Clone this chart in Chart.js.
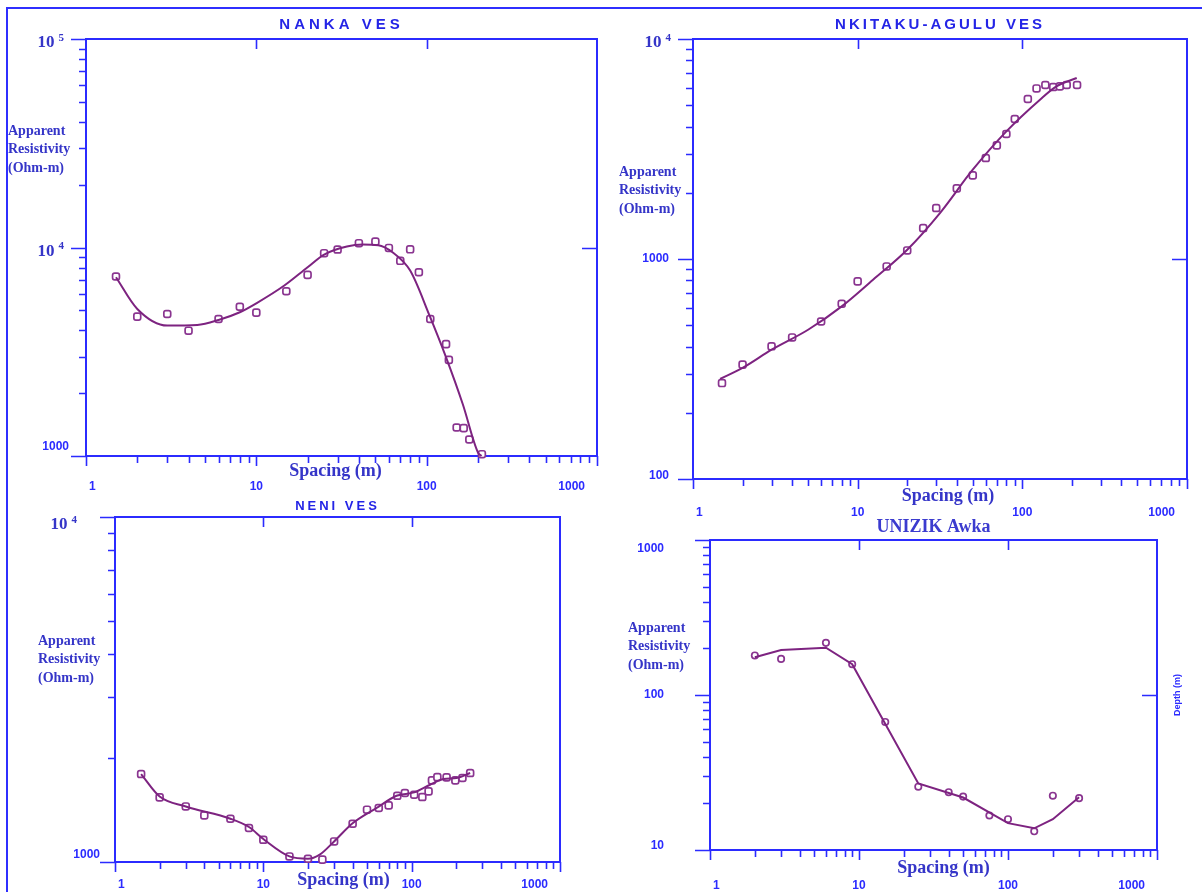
<!DOCTYPE html>
<html>
<head>
<meta charset="utf-8">
<script src="https://cdn.jsdelivr.net/npm/chart.js@4.4.1/dist/chart.umd.min.js"></script>
<style>
  html, body { margin: 0; padding: 0; background: #fff; }
  #page { position: relative; width: 1202px; height: 892px; overflow: hidden; }
  #page canvas { position: absolute; left: 0; top: 0; }
  #frame { position: absolute; left: 6px; top: 7px; width: 1200px; height: 900px;
           border-top: 2px solid #2f2fff; border-left: 2px solid #2f2fff; }
</style>
</head>
<body>
<div id="page">
  <div id="frame"></div>
  <canvas id="nanka" width="1202" height="892"></canvas>
  <canvas id="nkitaku" width="1202" height="892"></canvas>
  <canvas id="neni" width="1202" height="892"></canvas>
  <canvas id="unizik" width="1202" height="892"></canvas>
</div>
<script>
// ---- data ----
const spacingTicks = [1, 10, 100, 1000];

// Nanka VES
const nankaSpacing = [1.5, 2, 3, 4, 6, 8, 10, 15, 20, 25, 30, 40, 50, 60, 70, 80, 90, 105, 130, 135, 150, 165, 178, 211];
const nankaRho = [7260, 4660, 4800, 3990, 4540, 5200, 4870, 6170, 7390, 9390, 9780, 10490, 10680, 9950, 8630, 9800, 7610, 4540, 3440, 2890, 1370, 1360, 1200, 1020];
const nankaFitSpacing = [1.5, 2, 3, 4.5, 6, 8, 10, 14.6, 20, 25, 34, 42, 52, 63, 80, 104, 130, 163, 200, 210];
const nankaFitRho = [7200, 5070, 4220, 4250, 4490, 4890, 5400, 6570, 8040, 9250, 10110, 10330, 10260, 9490, 7750, 4710, 2970, 1770, 1040, 1000];
const nankaRhoTicks = [1000, 10000, 100000];

// Nkitaku-Agulu VES
const nkitakuSpacing = [1.5, 2, 3, 4, 6, 8, 10, 15, 20, 25, 30, 40, 50, 60, 70, 80, 90, 108, 122, 138, 154, 169, 186, 215];
const nkitakuRho = [273, 331, 401, 440, 520, 626, 791, 925, 1094, 1383, 1705, 2094, 2399, 2877, 3284, 3700, 4329, 5337, 5960, 6180, 6050, 6090, 6180, 6180];
const nkitakuFitSpacing = [1.46, 2, 3, 5, 8, 12.4, 20, 31.6, 50, 80, 128, 161, 214];
const nkitakuFitRho = [285, 320, 387, 477, 609, 805, 1102, 1618, 2546, 3802, 5297, 6088, 6650];
const nkitakuRhoTicks = [100, 1000, 10000];

// Neni VES
const neniSpacing = [1.5, 2, 3, 4, 6, 8, 10, 15, 20, 25, 30, 40, 50, 60, 70, 80, 90, 104, 118, 130, 137, 149, 172, 197, 220, 248];
const neniRho = [1799, 1539, 1449, 1365, 1335, 1255, 1160, 1038, 1022, 1016, 1147, 1291, 1418, 1434, 1459, 1556, 1585, 1567, 1543, 1602, 1724, 1763, 1759, 1724, 1752, 1811];
const neniFitSpacing = [1.5, 2, 3, 6, 8, 10, 15, 20, 24, 30, 40, 58, 79, 104, 133, 164, 201, 248];
const neniFitRho = [1799, 1549, 1449, 1335, 1263, 1166, 1038, 1022, 1050, 1147, 1295, 1434, 1556, 1591, 1675, 1740, 1752, 1811];
const neniRhoTicks = [1000, 10000];

// UNIZIK Awka
const unizikSpacing = [2, 3, 6, 9, 15, 25, 40, 50, 75, 100, 150, 200, 300];
const unizikRho = [180, 171, 217, 158, 67, 25.6, 23.6, 22.1, 16.7, 15.8, 13.2, 22.4, 21.6];
const unizikFitSpacing = [2, 3, 6, 9, 25, 50, 100, 150, 200, 300];
const unizikFitRho = [175, 195, 202, 158, 26.9, 21.8, 14.9, 13.8, 15.8, 21.9];
const unizikRhoTicks = [10, 100, 1000];

// ---- styling ----
const AXIS = '#2b2bff';
const LABEL = '#3535c8';
const CURVE = '#7d2380';
const MARK = '#8a3590';
const SERIF = '"Liberation Serif", "Times New Roman", serif';
const SANS = '"Liberation Sans", Arial, sans-serif';

function toPoints(xs, ys) {
    return xs.map((x, i) => ({ x: x, y: ys[i] }));
}

function logTicks(min, max) {
    const out = [];
    for (let e = Math.floor(Math.log10(min)); e <= Math.log10(max); e++) {
        for (let m = 1; m <= 9; m++) {
            const v = m * Math.pow(10, e);
            if (v >= min * 0.999 && v <= max * 1.001) out.push({ v: v, major: m === 1 });
        }
    }
    return out;
}

// draws the frame, ticks and all the texts of one VES panel
const vesFrame = {
    id: 'vesFrame',
    beforeDatasetsDraw(chart, args, o) {
        const ctx = chart.ctx;
        const a = chart.chartArea;
        const xs = chart.scales.x, ys = chart.scales.y;
        ctx.save();
        ctx.strokeStyle = AXIS;
        ctx.lineWidth = 2;
        ctx.strokeRect(a.left, a.top, a.right - a.left, a.bottom - a.top);

        ctx.lineWidth = 1.6;
        ctx.beginPath();
        // bottom ticks, pointing down
        logTicks(xs.min, xs.max).forEach(t => {
            const px = Math.round(xs.getPixelForValue(t.v)) + 0.5;
            ctx.moveTo(px, a.bottom);
            ctx.lineTo(px, a.bottom + (t.major ? 10 : 7));
        });
        // top ticks at inner decades, pointing in
        spacingTicks.slice(1, -1).forEach(v => {
            const px = Math.round(xs.getPixelForValue(v)) + 0.5;
            ctx.moveTo(px, a.top);
            ctx.lineTo(px, a.top + 10);
        });
        // left ticks, pointing out
        logTicks(ys.min, ys.max).forEach(t => {
            const py = Math.round(ys.getPixelForValue(t.v)) + 0.5;
            ctx.moveTo(a.left, py);
            ctx.lineTo(a.left - (t.major ? 15 : 7), py);
        });
        // right tick
        if (o.rightTick) {
            const py = Math.round(ys.getPixelForValue(o.rightTick)) + 0.5;
            ctx.moveTo(a.right, py);
            ctx.lineTo(a.right - 15, py);
        }
        ctx.stroke();

        // title
        ctx.fillStyle = o.titleColor || '#2424e6';
        ctx.font = o.titleFont;
        ctx.textAlign = 'center';
        ctx.textBaseline = 'middle';
        ctx.letterSpacing = o.titleSpacing || '0px';
        ctx.fillText(o.title, (a.left + a.right) / 2, a.top - o.titleGap);
        ctx.letterSpacing = '0px';

        // y axis title
        ctx.fillStyle = LABEL;
        ctx.font = 'bold 14px ' + SERIF;
        ctx.textAlign = 'left';
        ['Apparent', 'Resistivity', '(Ohm-m)'].forEach((s, i) => {
            ctx.fillText(s, o.yTitle[0], o.yTitle[1] + i * 18.5);
        });

        // x axis title
        ctx.font = 'bold 18px ' + SERIF;
        ctx.textAlign = 'center';
        ctx.fillText('Spacing (m)', (a.left + a.right) / 2 + o.xTitle[0], a.bottom + o.xTitle[1]);

        // x tick labels
        ctx.fillStyle = AXIS;
        ctx.font = 'bold 12px ' + SANS;
        spacingTicks.forEach((v, i) => {
            const px = xs.getPixelForValue(v);
            if (i === 0) { ctx.textAlign = 'left'; ctx.fillText(String(v), px + 3, a.bottom + o.xLabelGap); }
            else if (i === spacingTicks.length - 1) { ctx.textAlign = 'right'; ctx.fillText(String(v), px - 12, a.bottom + o.xLabelGap); }
            else { ctx.textAlign = 'center'; ctx.fillText(String(v), px, a.bottom + o.xLabelGap); }
        });

        // y tick labels
        o.yTicks.forEach(v => {
            let py = ys.getPixelForValue(v);
            if (v === ys.min) py += o.minShift;
            const exp = Math.round(Math.log10(v));
            if (v >= 10000) {
                ctx.fillStyle = LABEL;
                ctx.font = 'bold 11px ' + SERIF;
                ctx.textAlign = 'right';
                const xr = a.left - o.supGap;
                ctx.fillText(String(exp), xr, py + o.supShift - 5);
                const w = ctx.measureText(String(exp)).width;
                ctx.font = 'bold 17px ' + SERIF;
                ctx.fillText('10', xr - w - 4, py + o.supShift);
            } else {
                if (v === ys.max) py += o.maxShift;
                ctx.fillStyle = AXIS;
                ctx.font = 'bold 12px ' + SANS;
                ctx.textAlign = 'right';
                ctx.fillText(String(v), a.left - o.numGap, py);
            }
        });

        if (o.depthLabel) {
            ctx.save();
            ctx.translate(a.right + 21, (a.top + a.bottom) / 2);
            ctx.rotate(-Math.PI / 2);
            ctx.font = 'bold 9px ' + SANS;
            ctx.fillStyle = AXIS;
            ctx.textAlign = 'center';
            ctx.fillText('Depth (m)', 0, 0);
            ctx.restore();
        }
        ctx.restore();
    }
};

function makePanel(id, box, yRange, obsX, obsY, fitX, fitY, marker, smooth, frameOpts) {
    const W = 1202, H = 892;
    return new Chart(document.getElementById(id), {
        type: 'scatter',
        data: {
            datasets: [
                {
                    data: toPoints(fitX, fitY),
                    showLine: true,
                    pointRadius: 0,
                    borderColor: CURVE,
                    borderWidth: 2,
                    cubicInterpolationMode: smooth ? 'monotone' : 'default',
                    tension: 0,
                    clip: 10
                },
                {
                    data: toPoints(obsX, obsY),
                    showLine: false,
                    pointStyle: marker,
                    pointRadius: marker === 'circle' ? 3.2 : 4,
                    pointBorderWidth: 1.7,
                    pointBorderColor: MARK,
                    pointBackgroundColor: '#ffffff',
                    clip: 10
                }
            ]
        },
        options: {
            responsive: false,
            animation: false,
            events: [],
            layout: { padding: { left: box[0], top: box[1], right: W - box[2], bottom: H - box[3] } },
            scales: {
                x: { type: 'logarithmic', min: 1, max: 1000, display: false },
                y: { type: 'logarithmic', min: yRange[0], max: yRange[1], display: false }
            },
            plugins: {
                legend: { display: false },
                tooltip: { enabled: false },
                vesFrame: frameOpts
            }
        },
        plugins: [vesFrame]
    });
}

makePanel('nanka', [86, 39, 597, 456], [1000, 100000],
    nankaSpacing, nankaRho, nankaFitSpacing, nankaFitRho, 'rectRounded', true, {
        title: 'NANKA VES', titleFont: 'bold 15px ' + SANS, titleSpacing: '4px', titleGap: 14,
        yTitle: [8, 131], xTitle: [-6, 15], xLabelGap: 31,
        yTicks: nankaRhoTicks, minShift: -9, maxShift: 0, supGap: 22, supShift: 4, numGap: 17,
        rightTick: 10000
    });

makePanel('nkitaku', [693, 39, 1187, 479], [100, 10000],
    nkitakuSpacing, nkitakuRho, nkitakuFitSpacing, nkitakuFitRho, 'rectRounded', true, {
        title: 'NKITAKU-AGULU VES', titleFont: 'bold 15px ' + SANS, titleSpacing: '3px', titleGap: 14,
        yTitle: [619, 172], xTitle: [8, 17], xLabelGap: 34,
        yTicks: nkitakuRhoTicks, minShift: -3, maxShift: 0, supGap: 22, supShift: 4, numGap: 24,
        rightTick: 1000
    });

makePanel('neni', [115, 517, 560, 862], [1000, 10000],
    neniSpacing, neniRho, neniFitSpacing, neniFitRho, 'rectRounded', true, {
        title: 'NENI VES', titleFont: 'bold 13px ' + SANS, titleSpacing: '3px', titleGap: 11,
        yTitle: [38, 641], xTitle: [6, 18], xLabelGap: 23,
        yTicks: neniRhoTicks, minShift: -7, maxShift: 0, supGap: 38, supShift: 8, numGap: 15
    });

makePanel('unizik', [710, 540, 1157, 850], [10, 1000],
    unizikSpacing, unizikRho, unizikFitSpacing, unizikFitRho, 'circle', false, {
        title: 'UNIZIK Awka', titleFont: 'bold 18px ' + SERIF, titleColor: '#3b3bcf', titleSpacing: '0px', titleGap: 13,
        yTitle: [628, 628], xTitle: [10, 18], xLabelGap: 36,
        yTicks: unizikRhoTicks, minShift: -4, maxShift: 9, supGap: 30, supShift: 0, numGap: 46,
        rightTick: 100, depthLabel: true
    });
</script>
</body>
</html>
